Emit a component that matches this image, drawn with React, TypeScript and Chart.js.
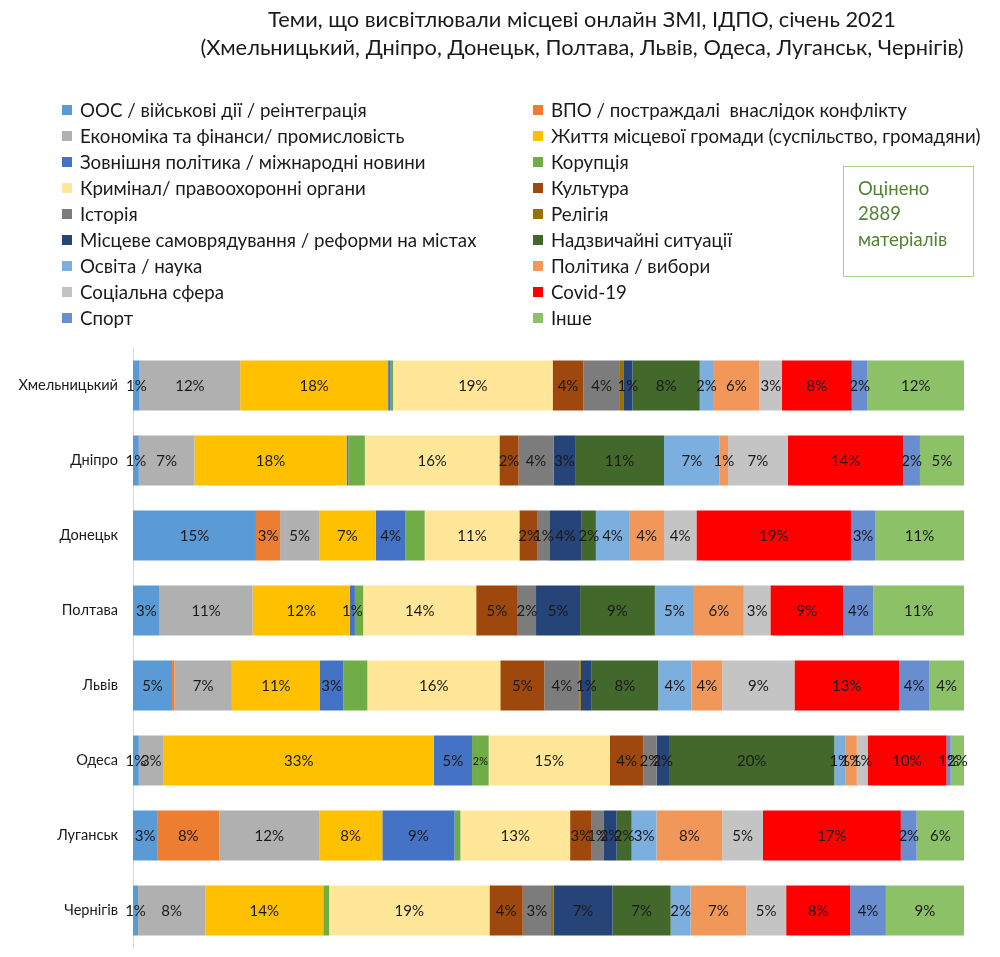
import React, { useEffect, useRef } from "react";
import { Chart, registerables } from "chart.js";

Chart.register(...registerables);

const FONT = "Lato, 'Open Sans', sans-serif";

const titleLines = [
  "Теми, що висвітлювали місцеві онлайн ЗМІ, ІДПО, січень 2021",
  "(Хмельницький, Дніпро, Донецьк, Полтава, Львів, Одеса, Луганськ, Чернігів)",
];

const noteLines = ["Оцінено", "2889", "матеріалів"];

const cities = ["Хмельницький", "Дніпро", "Донецьк", "Полтава", "Львів", "Одеса", "Луганськ", "Чернігів"];

const topics = [
  "ООС / військові дії / реінтеграція",
  "ВПО / постраждалі  внаслідок конфлікту",
  "Економіка та фінанси/ промисловість",
  "Життя місцевої громади (суспільство, громадяни)",
  "Зовнішня політика / міжнародні новини",
  "Корупція",
  "Кримінал/ правоохоронні органи",
  "Культура",
  "Історія",
  "Релігія",
  "Місцеве самоврядування / реформи на містах",
  "Надзвичайні ситуації",
  "Освіта / наука",
  "Політика / вибори",
  "Соціальна сфера",
  "Covid-19",
  "Спорт",
  "Інше",
];

const topicColors = [
  "#5B9BD5", "#ED7D31", "#B0B0B0", "#FFC000", "#4472C4", "#70AD47",
  "#FFE699", "#9E480E", "#7C7C7C", "#997300", "#264478", "#43682B",
  "#7CAFDD", "#F1975A", "#C4C4C4", "#FF0000", "#698ED0", "#8CC168",
];

// Share of materials per topic (same order as topics), percent
const khmelnytskyi = [0.8, 0, 12.1, 17.8, 0.3, 0.3, 19.2, 3.7, 4.4, 0.4, 1.1, 8.1, 1.6, 5.6, 2.7, 8.4, 1.9, 11.6];
const dnipro = [0.7, 0, 6.7, 18.3, 0.2, 2.0, 16.2, 2.3, 4.2, 0, 2.6, 10.7, 6.7, 1.0, 7.2, 13.9, 2.0, 5.3];
const donetsk = [14.8, 2.9, 4.7, 6.8, 3.6, 2.3, 11.4, 2.2, 1.4, 0, 3.9, 1.7, 4.0, 4.2, 3.9, 18.6, 2.9, 10.7];
const poltava = [3.2, 0, 11.2, 11.7, 0.6, 1.0, 13.6, 5.0, 2.2, 0, 5.3, 9.0, 4.7, 6.0, 3.2, 8.8, 3.6, 10.9];
const lviv = [4.7, 0.3, 6.9, 10.6, 2.8, 2.9, 16.0, 5.3, 4.2, 0.2, 1.3, 8.0, 4.0, 3.7, 8.7, 12.6, 3.6, 4.2];
const odesa = [0.7, 0, 3.0, 32.5, 4.6, 2.0, 14.6, 4.0, 1.6, 0, 1.5, 19.9, 1.3, 1.4, 1.3, 9.5, 0.5, 1.6];
const luhansk = [2.9, 7.5, 12.0, 7.6, 8.7, 0.7, 13.2, 2.6, 1.4, 0, 1.6, 1.8, 3.0, 7.9, 4.9, 16.6, 1.9, 5.7];
const chernihiv = [0.6, 0, 8.1, 14.2, 0, 0.7, 19.3, 4.0, 3.4, 0.3, 7.1, 7.0, 2.4, 6.7, 4.8, 7.7, 4.3, 9.4];

const cityValues = [khmelnytskyi, dnipro, donetsk, poltava, lviv, odesa, luhansk, chernihiv];

// Corruption labels are only printed for Odesa, in a smaller type
const corruptionTopic = "Корупція";
const corruptionLabelCity = "Одеса";

const decorPlugin = {
  id: "decor",
  afterDatasetsDraw(chart: any) {
    const ctx = chart.ctx as CanvasRenderingContext2D;
    ctx.save();
    ctx.textAlign = "center";
    ctx.textBaseline = "middle";
    ctx.fillStyle = "#1a1a1a";
    chart.data.datasets.forEach((ds: any, i: number) => {
      const meta = chart.getDatasetMeta(i);
      meta.data.forEach((el: any, j: number) => {
        const v = ds.data[j] as number;
        const r = Math.round(v);
        if (r < 1) return;
        const isCorr = ds.label === corruptionTopic;
        if (isCorr && cities[j] !== corruptionLabelCity) return;
        ctx.font = isCorr ? `11px ${FONT}` : `15px ${FONT}`;
        const cx = (el.x + el.base) / 2;
        ctx.fillText(`${r}%`, cx, el.y + 1);
      });
    });
    ctx.restore();
  },
  afterDraw(chart: any) {
    const ctx = chart.ctx as CanvasRenderingContext2D;
    ctx.save();
    // title
    ctx.fillStyle = "#1a1a1a";
    ctx.textAlign = "center";
    ctx.textBaseline = "middle";
    ctx.font = `21.8px ${FONT}`;
    ctx.fillText(titleLines[0], 582, 20);
    ctx.fillText(titleLines[1], 582, 48);

    // two-column legend, filled row by row
    ctx.textAlign = "left";
    ctx.font = `18.7px ${FONT}`;
    topics.forEach((t, k) => {
      const col = k % 2;
      const row = Math.floor(k / 2);
      const bx = col === 0 ? 62 : 533;
      const y = 110 + row * 26;
      ctx.fillStyle = topicColors[k];
      ctx.fillRect(bx, y - 5, 10, 10);
      ctx.fillStyle = "#1a1a1a";
      ctx.fillText(t, bx + 18, y + 1);
    });

    // note box
    ctx.strokeStyle = "#A9D18E";
    ctx.lineWidth = 1;
    ctx.strokeRect(843.5, 166.5, 130, 110);
    ctx.fillStyle = "#548235";
    ctx.font = `18.5px ${FONT}`;
    noteLines.forEach((s, k) => ctx.fillText(s, 858, 189 + k * 25.5));
    ctx.restore();
  },
};

export default function App() {
  const ref = useRef<HTMLCanvasElement | null>(null);

  useEffect(() => {
    if (!ref.current) return;
    const datasets = topics.map((t, k) => ({
      label: t,
      data: cityValues.map((row) => row[k]),
      backgroundColor: topicColors[k],
      borderWidth: 0,
      barPercentage: 0.667,
      categoryPercentage: 1,
    }));
    const chart = new Chart(ref.current, {
      type: "bar",
      data: { labels: cities, datasets },
      plugins: [decorPlugin],
      options: {
        indexAxis: "y",
        responsive: false,
        animation: false,
        layout: { padding: { top: 348, bottom: 9, left: 0, right: 36 } },
        plugins: { legend: { display: false }, title: { display: false }, tooltip: { enabled: false } },
        scales: {
          x: { stacked: true, min: 0, max: 100, display: false },
          y: {
            stacked: true,
            grid: { display: false, drawTicks: false },
            border: { display: true, color: "#D9D9D9" },
            ticks: { color: "#1a1a1a", font: { family: FONT, size: 14.6 }, padding: 15 },
            afterFit: (s: any) => {
              s.width = 133;
              s.paddingTop = 0;
              s.paddingBottom = 0;
            },
          },
        },
      },
    });
    return () => chart.destroy();
  }, []);

  return (
    <div style={{ position: "fixed", left: 0, top: 0, width: 1000, height: 957, background: "#fff" }}>
      <canvas ref={ref} width={1000} height={957} style={{ display: "block" }} />
    </div>
  );
}
